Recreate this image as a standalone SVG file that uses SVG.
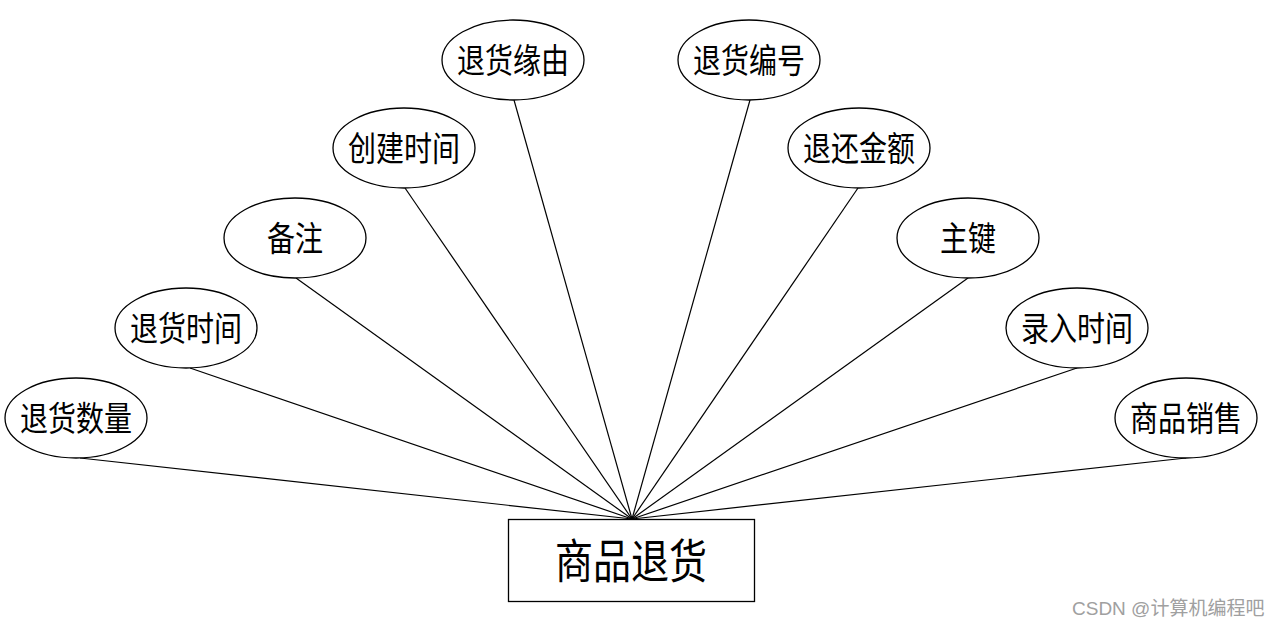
<svg xmlns="http://www.w3.org/2000/svg" width="1279" height="627" viewBox="0 0 1279 627">
<style>
.e{fill:#fff;stroke:#000;stroke-width:1.3}
.c line{stroke:#000;stroke-width:1.2}
.t{font-family:"Noto Sans CJK SC","Noto Sans",sans-serif;font-size:28px;text-anchor:middle;fill:#000}
.m{font-size:38px}
.w{font-family:"Liberation Sans","Noto Sans CJK SC",sans-serif;font-size:19px;fill:#a0a0a0}
</style>
<rect width="1279" height="627" fill="#fff"/>
<g class="c">
<line x1="80" y1="458" x2="632" y2="519"/>
<line x1="190" y1="368" x2="632" y2="519"/>
<line x1="296" y1="278" x2="632" y2="519"/>
<line x1="405" y1="188" x2="632" y2="519"/>
<line x1="514" y1="100" x2="632" y2="519"/>
<line x1="750" y1="100" x2="632" y2="519"/>
<line x1="858" y1="188" x2="632" y2="519"/>
<line x1="968" y1="278" x2="632" y2="519"/>
<line x1="1077" y1="368" x2="632" y2="519"/>
<line x1="1186" y1="458" x2="632" y2="519"/>
</g>
<g id="n1"><ellipse class="e" cx="76" cy="418" rx="71" ry="40"/><text class="t" transform="translate(76,431) scale(1,1.2)">退货数量</text></g>
<g id="n2"><ellipse class="e" cx="186" cy="328" rx="71" ry="40"/><text class="t" transform="translate(186,341) scale(1,1.2)">退货时间</text></g>
<g id="n3"><ellipse class="e" cx="295" cy="238" rx="71" ry="40"/><text class="t" transform="translate(295,251) scale(1,1.2)">备注</text></g>
<g id="n4"><ellipse class="e" cx="404" cy="148" rx="71" ry="40"/><text class="t" transform="translate(404,161) scale(1,1.2)">创建时间</text></g>
<g id="n5"><ellipse class="e" cx="513" cy="60" rx="71" ry="40"/><text class="t" transform="translate(513,73) scale(1,1.2)">退货缘由</text></g>
<g id="n6"><ellipse class="e" cx="749" cy="60" rx="71" ry="40"/><text class="t" transform="translate(749,73) scale(1,1.2)">退货编号</text></g>
<g id="n7"><ellipse class="e" cx="859" cy="148" rx="71" ry="40"/><text class="t" transform="translate(859,161) scale(1,1.2)">退还金额</text></g>
<g id="n8"><ellipse class="e" cx="968" cy="238" rx="71" ry="40"/><text class="t" transform="translate(968,251) scale(1,1.2)">主键</text></g>
<g id="n9"><ellipse class="e" cx="1077" cy="328" rx="71" ry="40"/><text class="t" transform="translate(1077,341) scale(1,1.2)">录入时间</text></g>
<g id="n10"><ellipse class="e" cx="1186" cy="418" rx="71" ry="40"/><text class="t" transform="translate(1186,431) scale(1,1.2)">商品销售</text></g>
<g id="main"><rect x="508.5" y="519.5" width="246" height="82" fill="#fff" stroke="#000" stroke-width="1.3"/><text class="t m" transform="translate(631,578) scale(1,1.22)">商品退货</text></g>
<text class="w" x="1072" y="615">CSDN @计算机编程吧</text>
</svg>
